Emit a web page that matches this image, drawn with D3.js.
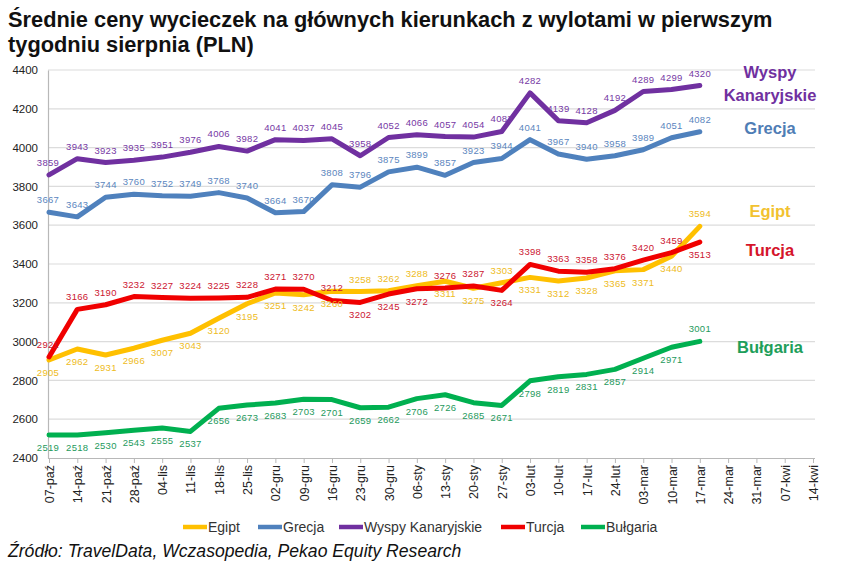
<!DOCTYPE html>
<html><head><meta charset="utf-8">
<script src="https://cdn.jsdelivr.net/npm/d3@7/dist/d3.min.js"></script>
<style>body{margin:0;background:#fff}svg{display:block}</style>
</head><body><svg id="c" width="863" height="568"></svg>
<script>
const categories = ["07-paź","14-paź","21-paź","28-paź","04-lis","11-lis","18-lis","25-lis","02-gru","09-gru","16-gru","23-gru","30-gru","06-sty","13-sty","20-sty","27-sty","03-lut","10-lut","17-lut","24-lut","03-mar","10-mar","17-mar","24-mar","31-mar","07-kwi","14-kwi"];
const yTicks = [2400,2600,2800,3000,3200,3400,3600,3800,4000,4200,4400];
const egipt = [2905,2962,2931,2966,3007,3043,3120,3195,3251,3242,3260,3258,3262,3288,3311,3275,3303,3331,3312,3328,3365,3371,3440,3594];
const grecja = [3667,3643,3744,3760,3752,3749,3768,3740,3664,3670,3808,3796,3875,3899,3857,3923,3944,4041,3967,3940,3958,3989,4051,4082];
const wyspy = [3859,3943,3923,3935,3951,3976,4006,3982,4041,4037,4045,3958,4052,4066,4057,4054,4083,4282,4139,4128,4192,4289,4299,4320];
const turcja = [2921,3166,3190,3232,3227,3224,3225,3228,3271,3270,3212,3202,3245,3272,3276,3287,3264,3398,3363,3358,3376,3420,3459,3513];
const bulgaria = [2519,2518,2530,2543,2555,2537,2656,2673,2683,2703,2701,2659,2662,2706,2726,2685,2671,2798,2819,2831,2857,2914,2971,3001];
const seriesNames = ["Egipt","Grecja","Wyspy Kanaryjskie","Turcja","Bułgaria"];
const title1 = "Średnie ceny wycieczek na głównych kierunkach z wylotami w pierwszym";
const title2 = "tygodniu sierpnia (PLN)";
const source = "Źródło: TravelData, Wczasopedia, Pekao Equity Research";

// styling (not data)
const series = [
  {name:seriesNames[0], values:egipt, color:"#FFC000", label:"#EEBB22", side:"#F2C230", flip:[11,12,13,16,23], def:"below"},
  {name:seriesNames[1], values:grecja, color:"#4F81BD", label:"#5B86BE", side:"#4F7DB5", flip:[], def:"above"},
  {name:seriesNames[2], values:wyspy, color:"#7030A0", label:"#7638A4", side:"#7030A0", flip:[], def:"above"},
  {name:seriesNames[3], values:turcja, color:"#F00000", label:"#CC1530", side:"#D5152B", flip:[11,12,13,16,23], def:"above"},
  {name:seriesNames[4], values:bulgaria, color:"#00B050", label:"#1E9A5C", side:"#1E9E5A", flip:[23], def:"below"}
];

const svg = d3.select("#c");
const x = d3.scalePoint().domain(categories).range([49, 813]);
const y = d3.scaleLinear().domain([2400, 4400]).range([458, 70]);
const left = 48, right = 815;

// title
svg.append("text").attr("x", 8).attr("y", 27).attr("font-family","Liberation Sans, Arial, sans-serif")
  .attr("font-weight","bold").attr("font-size",21.8).attr("fill","#111").text(title1);
svg.append("text").attr("x", 8).attr("y", 52).attr("font-family","Liberation Sans, Arial, sans-serif")
  .attr("font-weight","bold").attr("font-size",21.8).attr("fill","#111").text(title2);

// gridlines
svg.append("g").selectAll("line").data(yTicks.slice(1)).join("line")
  .attr("x1", left).attr("x2", right).attr("y1", d=>y(d)).attr("y2", d=>y(d))
  .attr("stroke","#dcdcdc").attr("stroke-width",1.2);

// y axis
const yAxis = d3.axisLeft(y).tickValues(yTicks).tickSize(0).tickPadding(10).tickFormat(d3.format("d"));
const gy = svg.append("g").attr("transform",`translate(${left},0)`).call(yAxis);
gy.select(".domain").attr("stroke","#b8b8b8").attr("stroke-width",1.2);
gy.selectAll("text").attr("font-family","Liberation Sans, Arial, sans-serif").attr("font-size",11.5).attr("fill","#222");

// x axis
const xAxis = d3.axisBottom(x).tickSize(5).tickPadding(3);
const gx = svg.append("g").attr("transform",`translate(0,${y(2400)})`).call(xAxis);
gx.select(".domain").attr("d", `M${left},0.5H${right}`).attr("stroke","#b8b8b8").attr("stroke-width",1.2);
gx.selectAll(".tick line").attr("stroke","#b8b8b8");
gx.selectAll("text").attr("font-family","Liberation Sans, Arial, sans-serif").attr("font-size",12.5).attr("fill","#222")
  .attr("text-anchor","end").attr("transform","rotate(-90)").attr("x",-7).attr("y",0).attr("dy","0.36em");

// lines
const line = d3.line().x((d,i)=>x(categories[i])).y(d=>y(d));
series.forEach(s=>{
  svg.append("path").attr("d", line(s.values)).attr("fill","none").attr("stroke", s.color)
    .attr("stroke-width",5).attr("stroke-linejoin","round").attr("stroke-linecap","round");
});

// data labels
series.forEach(s=>{
  svg.append("g").selectAll("text").data(s.values).join("text")
    .attr("x",(d,i)=>x(categories[i]) + (i===0? -1:0))
    .attr("y",(d,i)=>{
      const pos = s.flip.includes(i) ? (s.def==="above"?"below":"above") : s.def;
      return pos==="above" ? y(d)-9 : y(d)+16;
    })
    .attr("text-anchor","middle").attr("font-family","Liberation Sans, Arial, sans-serif")
    .attr("font-size",9.5).attr("letter-spacing",0.3).attr("fill", s.label).text(d=>d);
});

// right side names
const sideFont = "Liberation Sans, Arial, sans-serif";
const sideLabels = [
  {t:"Wyspy", c:series[2].side, yy:78},
  {t:"Kanaryjskie", c:series[2].side, yy:101},
  {t:"Grecja", c:series[1].side, yy:134},
  {t:"Egipt", c:series[0].side, yy:217},
  {t:"Turcja", c:series[3].side, yy:256},
  {t:"Bułgaria", c:series[4].side, yy:353}
];
svg.append("g").selectAll("text").data(sideLabels).join("text")
  .attr("x",770).attr("y",d=>d.yy).attr("text-anchor","middle").attr("font-family",sideFont)
  .attr("font-weight","bold").attr("font-size",16.5).attr("fill",d=>d.c).text(d=>d.t);

// legend
const legX = [183, 258, 339, 501, 581];
const lg = svg.append("g").selectAll("g").data(series).join("g")
  .attr("transform",(d,i)=>`translate(${legX[i]},527)`);
lg.append("line").attr("x1",0).attr("x2",24).attr("y1",0).attr("y2",0).attr("stroke",d=>d.color).attr("stroke-width",4.5);
lg.append("text").attr("x",25).attr("y",5).attr("font-family","Liberation Sans, Arial, sans-serif")
  .attr("font-size",14).attr("fill","#333").text(d=>d.name);

// source
svg.append("text").attr("x",8).attr("y",557).attr("font-family","Liberation Sans, Arial, sans-serif")
  .attr("font-style","italic").attr("font-size",17.6).attr("fill","#111").text(source);
</script></body></html>
